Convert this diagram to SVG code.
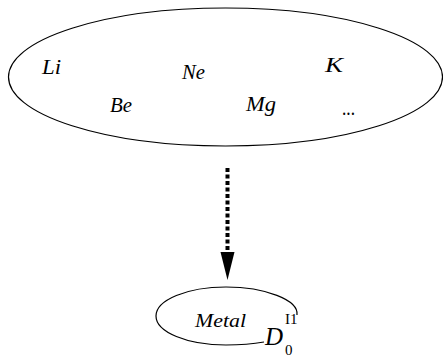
<svg xmlns="http://www.w3.org/2000/svg" width="443" height="358" viewBox="0 0 443 358">
<style>
.t{font-family:"Liberation Serif","Times New Roman",serif;font-style:italic;fill:#000}
.r{font-family:"Liberation Serif","Times New Roman",serif;fill:#000}
.o{fill:none;stroke:#000;stroke-width:1.2}
</style>
<g id="elements">
<ellipse class="o" cx="225.5" cy="77" rx="217" ry="69"/>
<text class="t" x="42" y="74" font-size="20" textLength="19" lengthAdjust="spacingAndGlyphs">Li</text>
<text class="t" x="182" y="79" font-size="20" textLength="23" lengthAdjust="spacingAndGlyphs">Ne</text>
<text class="t" x="325" y="72" font-size="20" textLength="18" lengthAdjust="spacingAndGlyphs">K</text>
<text class="t" x="110" y="112" font-size="20" textLength="22" lengthAdjust="spacingAndGlyphs">Be</text>
<text class="t" x="246" y="111" font-size="20" textLength="30" lengthAdjust="spacingAndGlyphs">Mg</text>
<text class="r" x="342" y="115" font-size="20" textLength="13" lengthAdjust="spacingAndGlyphs">...</text>
</g>
<g id="metal">
<path class="o" d="M297,315 C299,300 265,287 226,287 C187,287 156,300 156,316 C156,332 187,345 226,345 C240,345 253,344 264,342"/>
<text class="t" x="195" y="327" font-size="19" textLength="51" lengthAdjust="spacingAndGlyphs">Metal</text>
<text class="t" x="265" y="345" font-size="25">D</text>
<text class="r" x="285" y="355" font-size="15">0</text>
<text class="r" x="285" y="324" font-size="15">I1</text>
</g>
<g id="connectors">
<line x1="227.5" y1="168" x2="227.5" y2="253" stroke="#000" stroke-width="4" stroke-dasharray="4,2.5"/>
<path d="M220.5,252 L234.5,252 L227.5,280 Z" fill="#000"/>
</g>
</svg>
